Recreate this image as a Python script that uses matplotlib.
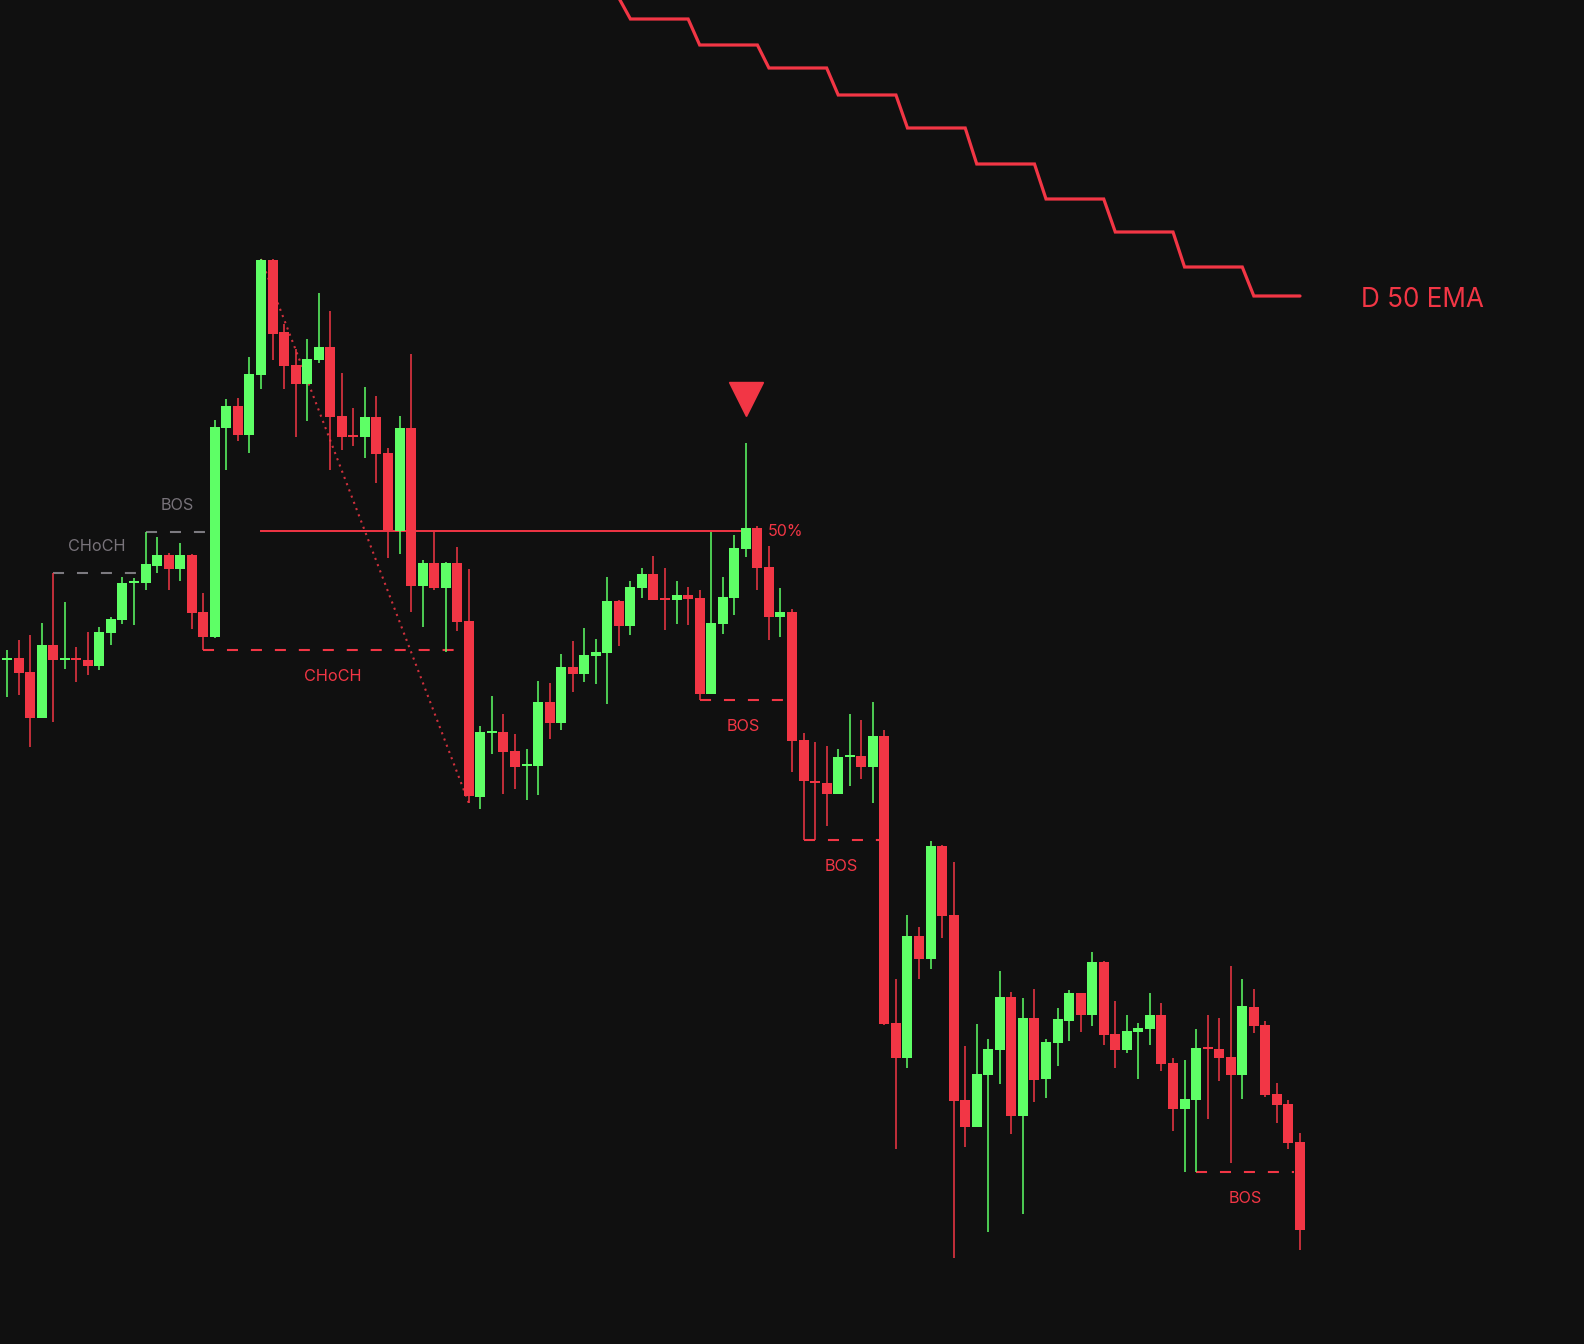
import numpy as np
import matplotlib.pyplot as plt
from matplotlib.transforms import offset_copy

# candles (arbitrary price units), one entry per bar
opens = [591, 684, 686, 672, 626, 699, 684, 686, 684, 678,
         711, 724, 761, 761, 778, 789, 775, 789, 732, 707,
         916, 938, 909, 969, 1084, 1012, 979, 960, 984, 997,
         928, 909, 907, 927, 891, 813, 916, 758, 781, 756,
         781, 723, 547, 611, 612, 593, 578, 578, 642, 621,
         677, 670, 688, 691, 743, 718, 756, 770, 746, 744,
         749, 746, 650, 720, 746, 795, 816, 777, 727, 732,
         604, 563, 561, 550, 587, 588, 577, 608, 321, 286,
         408, 385, 498, 429, 244, 217, 269, 294, 347, 228,
         326, 265, 301, 323, 351, 329, 382, 310, 294, 312,
         315, 329, 281, 235, 244, 297, 295, 287, 269, 337,
         319, 250, 240, 202]
highs = [687, 694, 704, 709, 721, 771, 742, 697, 712, 717,
         727, 767, 766, 812, 807, 791, 801, 790, 751, 924,
         945, 946, 987, 1085, 1085, 1020, 995, 1005, 1051, 1033,
         971, 936, 957, 948, 896, 928, 990, 784, 812, 782,
         797, 775, 618, 648, 630, 610, 595, 663, 661, 690,
         703, 716, 705, 767, 744, 763, 776, 788, 776, 763,
         757, 754, 812, 767, 809, 901, 818, 798, 756, 735,
         611, 602, 598, 595, 630, 624, 642, 614, 365, 429,
         417, 503, 499, 482, 298, 320, 305, 373, 352, 346,
         355, 305, 336, 354, 351, 392, 383, 343, 329, 321,
         351, 341, 286, 284, 315, 329, 326, 378, 365, 355,
         323, 261, 244, 211]
lows = [591, 647, 649, 597, 626, 622, 675, 662, 669, 674,
        699, 720, 719, 754, 771, 754, 763, 715, 694, 706,
        874, 903, 891, 955, 984, 955, 907, 923, 981, 874,
        894, 898, 886, 861, 786, 790, 732, 717, 754, 692,
        713, 541, 535, 590, 550, 555, 544, 549, 605, 614,
        652, 662, 660, 640, 698, 709, 746, 744, 714, 720,
        719, 644, 650, 710, 729, 787, 754, 704, 707, 572,
        504, 504, 518, 550, 558, 565, 541, 319, 195, 276,
        365, 375, 406, 86, 197, 217, 112, 260, 210, 130,
        242, 246, 278, 303, 312, 318, 299, 276, 291, 265,
        299, 273, 213, 172, 172, 225, 263, 181, 245, 311,
        247, 221, 195, 94]
closes = [684, 686, 671, 626, 699, 684, 686, 684, 678, 712,
          725, 761, 763, 780, 789, 775, 789, 731, 707, 917,
          938, 909, 970, 1084, 1010, 978, 960, 985, 997, 927,
          907, 907, 927, 890, 814, 916, 758, 781, 756, 781,
          722, 548, 612, 613, 592, 577, 580, 642, 621, 677,
          670, 689, 692, 743, 718, 757, 770, 744, 744, 749,
          745, 650, 721, 747, 796, 816, 776, 727, 732, 603,
          563, 561, 550, 587, 589, 577, 608, 320, 286, 408,
          385, 498, 428, 243, 217, 270, 295, 347, 228, 326,
          264, 302, 325, 351, 329, 382, 309, 294, 313, 316,
          329, 280, 235, 245, 296, 295, 286, 269, 338, 318,
          249, 239, 201, 114]

# daily 50 EMA, one value per day (6 bars per day), visible from bar 54
ema_daily = [1346, 1325, 1299, 1276, 1249, 1216, 1180, 1145, 1112, 1077, 1048]
ema_first_bar = 54
bars_per_day = 6

# market structure breaks
struct_label = ['CHoCH', 'BOS', 'CHoCH', 'BOS', 'BOS', 'BOS']
struct_pivot = [5, 13, 18, 61, 70, 104]
struct_break = [13, 19, 41, 69, 77, 113]
struct_side = ['high', 'high', 'low', 'low', 'low', 'low']

swing_high_bar = 23
swing_low_bar = 41
signal_bar = 65

BG = '#101010'
UP = '#5eff66'
DOWN = '#f23645'
GREY = '#7c7a80'
GREY_TXT = '#78737a'

o = np.array(opens, float)
h = np.array(highs, float)
l = np.array(lows, float)
c = np.array(closes, float)
x = np.arange(len(o))
cols = np.where(c >= o, UP, DOWN)

fig = plt.figure(figsize=(15.84, 13.44), dpi=100, facecolor=BG)
ax = fig.add_axes([0, 0, 1, 1])
ax.set_facecolor(BG)
ax.axis('off')
ax.set_xlim(0.394, 137.6)
ax.set_ylim(0, 1344)

# candles
ax.vlines(x, l, h, colors=cols, lw=1.1, zorder=3)
ax.bar(x, np.maximum(np.abs(c - o), 2.5), bottom=np.minimum(o, c),
       width=0.866, color=cols, lw=0, zorder=4)

# structure lines
for lab, p, b, side in zip(struct_label, struct_pivot, struct_break, struct_side):
    lvl = h[p] if side == 'high' else l[p]
    col = GREY if side == 'high' else DOWN
    tcol = GREY_TXT if side == 'high' else DOWN
    ax.plot([p, b - 0.5], [lvl, lvl], color=col, lw=1.5,
            linestyle=(0, (5.3, 6.2)), zorder=2)
    dy = 19 if side == 'high' else -19
    ax.annotate(lab, ((p + b - 0.5) / 2, lvl), xytext=(0, dy),
                textcoords='offset points', ha='center', va='center',
                color=tcol, fontsize=11.7, family='Inter')

# swing leg and 50% level
top = h[swing_high_bar]
bot = l[swing_low_bar]
ax.plot([swing_high_bar, swing_low_bar], [top, bot], color=DOWN, lw=1.5,
        alpha=0.85, linestyle=(0, (1, 2.2)), zorder=2)
mid = (top + bot) / 2
ax.plot([swing_high_bar, signal_bar], [mid, mid], color=DOWN, lw=1.4, zorder=2)
ax.annotate('50%', (signal_bar, mid), xytext=(16, 0), textcoords='offset points',
            ha='left', va='center', color=DOWN, fontsize=11.5, family='Inter')

# sell signal
tr = offset_copy(ax.transData, fig=fig, x=0, y=32, units='points')
ax.plot([signal_bar], [h[signal_bar]], marker='v', ms=25, color=DOWN,
        mec=DOWN, transform=tr, zorder=5)

# daily EMA as step line
ex = [ema_first_bar]
ey = [ema_daily[0]]
last = len(o) - 1
for k, v in enumerate(ema_daily[1:]):
    s = ema_first_bar + 1 + bars_per_day * k
    ex += [s, min(s + bars_per_day - 1, last)]
    ey += [v, v]
ax.plot(ex, ey, color=DOWN, lw=2.3, solid_capstyle='round',
        solid_joinstyle='miter', zorder=3)
ax.annotate('D 50 EMA', (ex[-1], ey[-1]), xytext=(44, -8),
            textcoords='offset points', ha='left', va='baseline',
            color=DOWN, fontsize=18.8, family='Inter')

fig.savefig('out.png', dpi=100, facecolor=BG)
